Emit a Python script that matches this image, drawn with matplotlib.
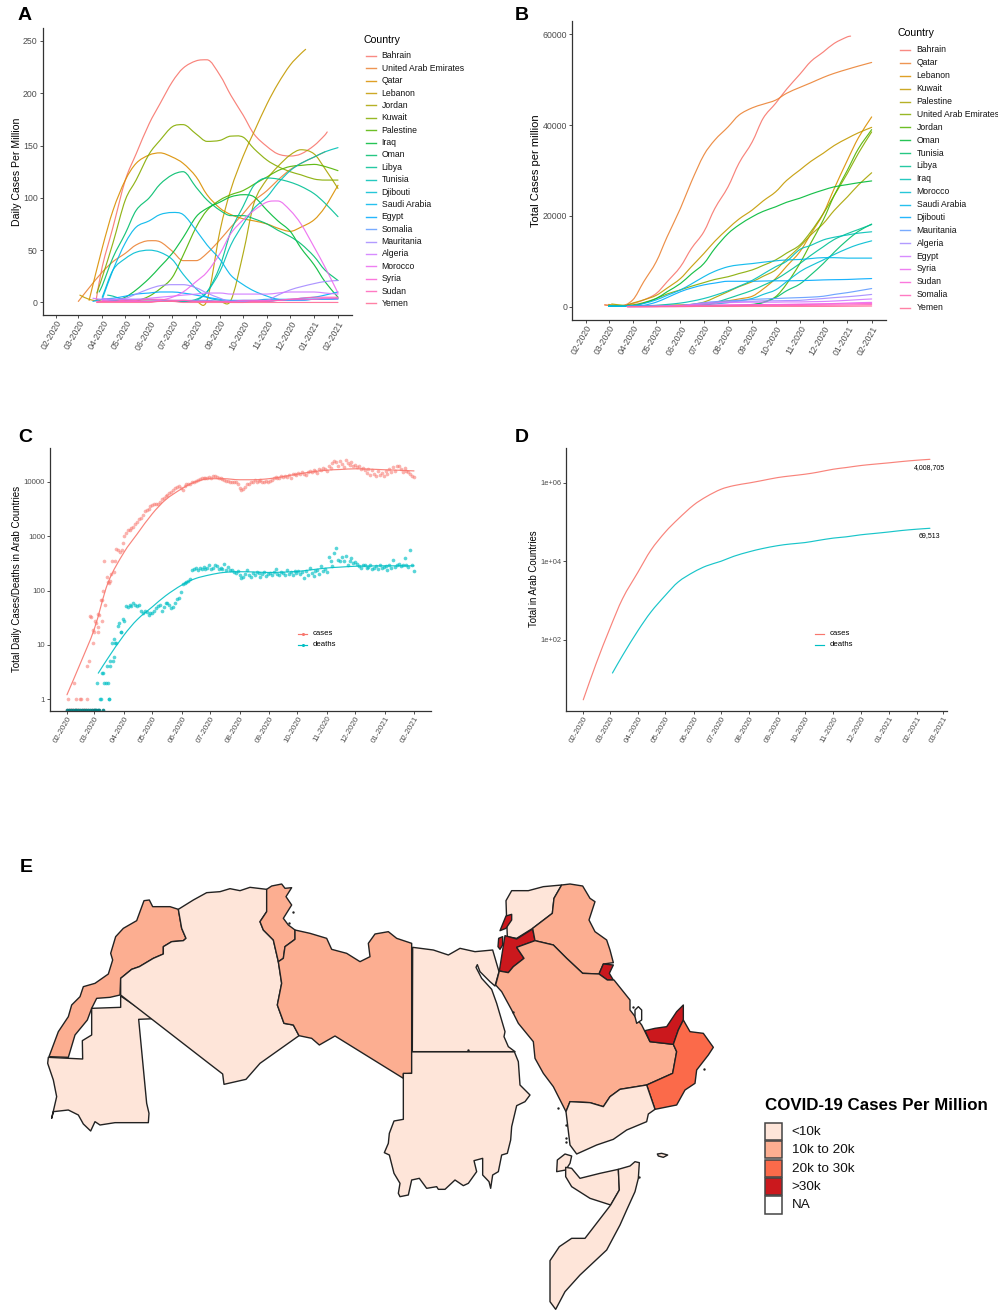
import numpy as np
import matplotlib
matplotlib.use('Agg')
from matplotlib import pyplot as plt
from matplotlib.patches import Polygon, Rectangle, PathPatch
from matplotlib.path import Path

plt.rcParams['font.family'] = ['Liberation Sans', 'DejaVu Sans']

# half month grid used for the reading of panels A, B and D
half_months = ['2020-02-01', '2020-02-15', '2020-03-01', '2020-03-15', '2020-04-01', '2020-04-15',
               '2020-05-01', '2020-05-15', '2020-06-01', '2020-06-15', '2020-07-01', '2020-07-15',
               '2020-08-01', '2020-08-15', '2020-09-01', '2020-09-15', '2020-10-01', '2020-10-15',
               '2020-11-01', '2020-11-15', '2020-12-01', '2020-12-15', '2021-01-01', '2021-01-15',
               '2021-02-01', '2021-02-15']
month_starts = ['2020-02-01', '2020-03-01', '2020-04-01', '2020-05-01', '2020-06-01', '2020-07-01',
                '2020-08-01', '2020-09-01', '2020-10-01', '2020-11-01', '2020-12-01', '2021-01-01',
                '2021-02-01', '2021-03-01']
month_labels = ['02-2020', '03-2020', '04-2020', '05-2020', '06-2020', '07-2020', '08-2020',
                '09-2020', '10-2020', '11-2020', '12-2020', '01-2021', '02-2021', '03-2021']

# panel A, daily cases per million
a_bahrain = [2, 34, 72, 117, 142, 171, 190, 211, 224, 231, 232, 217, 198, 179, 161, 149, 142, 140, 142, 150, 160, 163]
a_uae = [1, 14, 29, 39, 47, 55, 59, 58, 49, 40, 40, 47, 60, 72, 85, 97, 107, 117, 127, 133, 139, 144]
a_qatar = [2, 52, 88, 117, 133, 141, 143, 139, 133, 120, 103, 90, 84, 80, 78, 75, 71, 68, 72, 79, 91, 112]
a_lebanon = [7, 3, 1, 1, 1, 1, 1, 1, 1, 1, 1, 2, 69, 108, 140, 163, 190, 209, 227, 238, 242]
a_jordan = [3, 1, 1, 1, 1, 1, 1, 1, 1, 1, 1, 1, 2, 47, 95, 118, 130, 141, 146, 142, 128, 109]
a_kuwait = [9, 24, 57, 98, 117, 142, 155, 168, 170, 161, 154, 155, 159, 158, 147, 136, 130, 125, 122, 118, 117, 117]
a_palestine = [1, 6, 13, 24, 45, 72, 88, 98, 103, 107, 113, 120, 126, 130, 131, 132, 130, 126]
a_iraq = [1, 5, 12, 23, 34, 47, 62, 82, 90, 96, 101, 103, 101, 88, 78, 68, 52, 36, 20, 5]
a_oman = [10, 16, 43, 66, 88, 100, 113, 122, 125, 110, 98, 88, 83, 83, 80, 75, 69, 63, 56, 44, 31, 21]
a_libya = [7, 6, 2, 1, 1, 1, 1, 1, 3, 10, 35, 68, 92, 112, 119, 118, 115, 111, 104, 95, 82]
a_tunisia = [3, 2, 1, 1, 1, 1, 1, 1, 2, 10, 30, 55, 75, 90, 101, 114, 126, 133, 139, 144, 148]
a_djibouti = [5, 31, 42, 48, 50, 48, 41, 27, 13, 5, 2, 1, 1, 1, 1, 2, 2, 3, 3, 3, 4]
a_saudi = [3, 31, 57, 72, 78, 84, 86, 84, 69, 55, 41, 26, 17, 11, 6, 3, 2, 2, 3, 3, 4]
a_egypt = [1, 3, 4, 6, 8, 9, 10, 10, 9, 7, 5, 3, 2, 2, 2, 3, 3, 3, 4, 5, 7, 10]
a_somalia = [1, 2, 3, 3, 3, 2, 2, 2, 2, 2, 1, 1, 1, 1, 1, 2, 2, 2, 3, 3, 3]
a_mauritania = [4, 3, 4, 8, 13, 16, 17, 17, 14, 9, 4, 1, 1, 1, 2, 7, 12, 15, 18, 20, 21]
a_algeria = [4, 3, 3, 3, 3, 4, 5, 6, 7, 8, 9, 9, 8, 8, 8, 8, 9, 10, 10, 10, 9, 8]
a_morocco = [2, 1, 1, 1, 1, 2, 5, 10, 20, 29, 47, 66, 79, 88, 96, 97, 88, 75, 53, 34, 9]
a_syria = [1, 1, 1, 1, 1, 1, 1, 1, 2, 1, 1, 1, 1, 2, 2, 2, 2, 3, 3, 3, 4, 4]
a_sudan = [0, 1, 1, 2, 2, 3, 3, 2, 2, 1, 1, 1, 0, 0, 1, 1, 2, 3, 4, 5, 5, 5]
a_yemen = [0, 0, 0, 0, 0, 0, 1, 1, 0, 0, 0, 0, 0, 0, 0, 0, 0, 0, 0, 0, 0, 0]

# panel B, total cases per million
b_bahrain = [400, 300, 200, 700, 1500, 2900, 5500, 8800, 12800, 16500, 21600, 26400, 31600, 36300, 41500, 44800, 47900, 51200, 54000, 56100, 58000, 59450, 59600]
b_qatar = [400, 300, 150, 1500, 5500, 9900, 15400, 21650, 27500, 33400, 36700, 39600, 42200, 43800, 44600, 45500, 47000, 48300, 49300, 50500, 51400, 52300, 53000, 53800]
b_lebanon = [500, 200, 150, 200, 250, 300, 350, 450, 650, 900, 1300, 1700, 2300, 3900, 6200, 8900, 12100, 16000, 20500, 26000, 32300, 37200, 41800]
b_kuwait = [400, 800, 1500, 2500, 4100, 6200, 8800, 11700, 14400, 17200, 19300, 21300, 23300, 25300, 27800, 30100, 32000, 33800, 35500, 37100, 38300, 39500]
b_palestine = [600, 400, 200, 200, 250, 300, 350, 500, 1000, 2000, 3300, 4400, 5500, 6700, 8100, 10500, 13200, 15800, 18300, 21200, 24200, 26800, 29500]
b_uae = [300, 400, 900, 1800, 2800, 3700, 4500, 5300, 6000, 6600, 7300, 8100, 9100, 10300, 11800, 13600, 16500, 20500, 24500, 29400, 33800, 38500]
b_jordan = [100, 100, 100, 100, 100, 100, 120, 150, 170, 200, 250, 400, 1000, 2200, 5000, 9500, 14000, 19100, 24500, 30100, 34800, 39000]
b_oman = [300, 300, 800, 1800, 3300, 5100, 7200, 9500, 12800, 16100, 18000, 19800, 21000, 22000, 23000, 23900, 24800, 25700, 26400, 26900, 27300, 27700]
b_tunisia = [100, 100, 100, 100, 100, 100, 100, 120, 150, 200, 250, 300, 500, 900, 2000, 3500, 5000, 7000, 9500, 12000, 14700, 16600, 18200]
b_libya = [100, 100, 100, 100, 100, 150, 200, 300, 500, 900, 1800, 2600, 3600, 4700, 6000, 7500, 9500, 11300, 13200, 14800, 16100, 17000, 18100]
b_iraq = [300, 100, 100, 200, 300, 500, 800, 1200, 1800, 2500, 3500, 4500, 5800, 7200, 8800, 10000, 12600, 13500, 14700, 15300, 15800, 16200, 16500]
b_morocco = [100, 100, 100, 100, 150, 200, 250, 300, 400, 600, 900, 1300, 1800, 2700, 3700, 5500, 7700, 9000, 10300, 11500, 12800, 13700, 14500]
b_saudi = [100, 100, 200, 700, 1500, 2500, 3700, 5000, 6600, 7800, 8800, 9200, 9500, 9800, 10100, 10300, 10400, 10600, 10800, 10800, 10700, 10700, 10700]
b_djibouti = [100, 100, 300, 1000, 2000, 3300, 4100, 4800, 5200, 5600, 5600, 5600, 5650, 5700, 5700, 5750, 5800, 5900, 5950, 6000, 6100, 6200]
b_mauritania = [50, 50, 50, 50, 100, 200, 500, 900, 1100, 1300, 1400, 1600, 1700, 1800, 1900, 2000, 2100, 2300, 2700, 3100, 3500, 4000]
b_algeria = [50, 50, 100, 150, 200, 300, 500, 800, 1000, 1100, 1200, 1200, 1300, 1300, 1350, 1400, 1600, 1800, 2000, 2200, 2400, 2700]
b_egypt = [50, 50, 50, 100, 150, 200, 400, 600, 800, 900, 950, 1000, 1000, 1000, 1050, 1050, 1100, 1150, 1250, 1400, 1550, 1700]
b_syria = [20, 20, 20, 20, 20, 30, 50, 100, 150, 250, 300, 350, 400, 450, 500, 550, 600, 650, 700, 800, 880, 950]
b_sudan = [20, 20, 30, 50, 100, 200, 300, 350, 400, 430, 450, 460, 470, 480, 490, 500, 520, 550, 580, 620, 660, 700]
b_somalia = [10, 20, 30, 50, 80, 120, 180, 200, 210, 220, 230, 240, 250, 260, 270, 280, 300, 320, 340, 370, 410, 450]
b_yemen = [0, 0, 0, 10, 20, 40, 50, 60, 60, 60, 60, 70, 70, 70, 70, 70, 70, 70, 80, 100, 120, 150]

# panel C, daily totals: early points by day, later ones every second day from 1 April
c_case_days = [1, 7, 9, 14, 15, 21, 21, 23, 25, 24, 27, 27, 29, 30, 31, 33, 33, 33, 37, 34, 36, 37, 40, 38, 39, 42, 43, 44, 45, 46, 50, 47, 51, 52, 54, 56, 58, 59]
c_case_early = [1, 2, 1, 1, 1, 1, 4, 5, 33, 34, 11, 19, 17, 28, 25, 21, 17, 37, 27, 36, 67, 67, 55, 98, 355, 175, 146, 136, 151, 198, 222, 350, 350, 575, 560, 520, 560, 760]
c_cases_late = [1000, 1150, 1300, 1300, 1400, 1500, 1650, 1800, 2100, 2200, 2500, 2900, 3000, 3200, 3600,
                3800, 3900, 4000, 3900, 4200, 4800, 5000, 5500, 5800, 6300, 6500, 7200, 7800, 8200, 8500,
                7600, 7200, 8300, 9000, 9300, 9000, 9800, 10000, 10400, 11000, 11300, 11600, 11800, 12000, 11700,
                12200, 11800, 12800, 13000, 12400, 12000, 11800, 11400, 11000, 10600, 10300, 10000, 9900, 10200, 9800, 9300,
                7800, 7000, 7400, 8200, 9300, 9000, 9800, 10200, 10800, 9900, 10500, 11000, 10200, 9800, 10400, 10100,
                10300, 10900, 11800, 12300, 12000, 11600, 12800, 12200, 13000, 12400, 13500, 12000, 13800, 14200, 13300,
                14500, 13800, 15000, 14200, 13200, 15500, 16200, 15000, 16800, 15800, 14700, 17500, 16800, 18200, 17300, 16000,
                20000, 18000, 22000, 24000, 23000, 20000, 24500, 21500, 19000, 25000, 22000, 20500, 23000, 19500,
                21000, 19000, 20000, 17000, 18000, 16500, 14500, 17500, 13500, 16500, 14000, 13000, 15800, 13500, 14800, 12900,
                16000, 14000, 17000, 15000, 18500, 16200, 19500, 20000, 17000, 15000, 18000, 16000, 15500, 14000, 13000, 12500]
c_death_days = [32, 35, 36, 44, 44, 39, 41, 43, 37, 38, 42, 45, 45, 49, 50, 48, 51, 52, 50, 57, 57, 54, 55, 59]
c_death_early = [2, 1, 1, 1, 1, 2, 2, 2, 3, 3, 4, 4, 5, 5, 6, 11, 11, 11, 13, 17, 17, 22, 25, 30]
c_deaths_late = [28, 52, 50, 55, 52, 58, 55, 52, 55, 42, 38, 42, 40, 35, 38,
                 38, 42, 48, 52, 55, 42, 50, 60, 58, 55, 48, 50, 60, 70, 72,
                 95, 130, 140, 145, 150, 165, 240, 250, 255, 240, 260, 250, 270, 250, 260,
                 290, 250, 260, 300, 280, 250, 265, 250, 310, 240, 270, 240, 235, 220, 210, 230,
                 190, 170, 180, 200, 240, 190, 175, 210, 195, 220, 210, 180, 200, 215, 185, 200,
                 210, 190, 215, 250, 200, 190, 220, 210, 195, 235, 205, 215, 190, 225, 210,
                 230, 200, 215, 170, 230, 190, 255, 210, 185, 225, 240, 200, 280, 225, 250, 215,
                 420, 350, 280, 500, 620, 370, 350, 420, 350, 440, 300, 350, 400, 320,
                 340, 310, 280, 260, 290, 300, 260, 270, 290, 250, 265, 280, 250, 300, 260, 270,
                 280, 240, 300, 260, 370, 270, 300, 310, 280, 290, 400, 300, 270, 560, 290, 230]
c_zero_cases = [0, 2, 3, 4, 5, 6, 8, 10, 11, 12, 13, 16, 17, 18, 19, 20, 22, 26, 28]
c_zero_deaths = [0, 2, 4, 6, 8, 10, 12, 14, 16, 18, 20, 22, 24, 26, 28, 30, 31, 33, 34, 38]
c_cases_fit = [1.2, 4.5, 20, 135, 500, 1100, 2600, 4700, 7500, 10000, 11500, 11500, 11000, 11000, 11500, 12500, 14000, 15200, 16500, 17000, 17500, 17300, 16800, 16500, 16000]
c_deaths_fit = [3, 5.6, 15, 29, 50, 80, 126, 165, 195, 215, 222, 220, 215, 218, 225, 240, 260, 270, 280, 283, 285, 285, 285]

# panel D, running totals
d_cases = [2.9, 24, 188, 1100, 5300, 19000, 56000, 120000, 273000, 447000, 690000, 854000, 1000000, 1150000, 1370000, 1510000, 1670000, 1880000, 2240000, 2470000, 2780000, 3000000, 3260000, 3520000, 3810000, 4008705]
d_deaths = [14, 39, 170, 500, 1350, 2950, 5300, 7600, 10000, 13400, 17500, 21000, 25000, 27600, 30000, 33900, 39000, 42000, 47300, 51000, 56000, 61000, 66000, 69513]

morocco = [(432, 152), (448, 150), (458, 170), (510, 170), (535, 178), (545, 235), (558, 265), (550, 272), (515, 275), (490, 290), (490, 312), (460, 325), (418, 350), (395, 358), (362, 385), (360, 435), (330, 442), (290, 445), (275, 475), (262, 510), (225, 555), (205, 622), (147, 620), (175, 545), (205, 500), (215, 465), (240, 440), (250, 410), (285, 400), (325, 372), (338, 330), (332, 310), (347, 260), (370, 235), (410, 212)]
mauritania = [(145, 622), (248, 627), (247, 572), (275, 555), (275, 475), (362, 472), (362, 438), (462, 506), (416, 508), (440, 760), (447, 790), (445, 818), (345, 818), (300, 825), (285, 815), (272, 843), (250, 822), (235, 795), (205, 780), (160, 785), (155, 805), (170, 740), (160, 690), (143, 640)]
algeria = [(535, 178), (580, 150), (620, 128), (660, 125), (690, 116), (720, 122), (750, 112), (800, 118), (800, 185), (780, 215), (790, 240), (820, 270), (835, 335), (845, 400), (832, 465), (852, 520), (880, 525), (897, 557), (780, 640), (738, 688), (672, 703), (668, 672), (620, 635), (362, 435), (362, 385), (395, 358), (418, 350), (460, 325), (490, 312), (490, 290), (515, 275), (550, 272), (558, 265), (545, 235)]
tunisia = [(800, 118), (815, 108), (845, 102), (855, 115), (875, 113), (858, 140), (875, 165), (850, 205), (865, 225), (885, 240), (885, 268), (855, 290), (850, 325), (835, 335), (820, 270), (790, 240), (780, 215), (800, 185)]
libya = [(885, 240), (930, 250), (980, 265), (995, 298), (1040, 310), (1080, 335), (1110, 320), (1105, 280), (1125, 252), (1165, 245), (1190, 265), (1235, 280), (1235, 670), (1210, 672), (1210, 685), (1005, 558), (958, 585), (935, 565), (897, 557), (880, 525), (852, 520), (832, 465), (845, 400), (835, 335), (850, 325), (855, 290), (885, 268)]
sudan = [(125, 35), (433, 35), (445, 65), (450, 135), (480, 165), (465, 185), (440, 197), (425, 260), (422, 300), (412, 340), (395, 345), (385, 395), (368, 405), (362, 445), (357, 425), (338, 405), (338, 355), (312, 362), (320, 395), (295, 430), (280, 437), (255, 420), (225, 448), (205, 448), (200, 440), (170, 445), (148, 415), (125, 420), (115, 465), (90, 470), (85, 460), (90, 430), (72, 400), (58, 345), (43, 338), (55, 310), (58, 280), (72, 243), (100, 238), (100, 100), (125, 100)]
egypt = [(38, 232), (100, 240), (145, 255), (180, 235), (225, 245), (278, 240), (297, 305), (285, 348), (270, 335), (240, 305), (232, 284), (228, 292), (245, 325), (275, 358), (290, 400), (315, 485), (312, 500), (325, 530), (345, 545), (37, 545)]
syria = [(335, 62), (385, 62), (430, 50), (485, 45), (462, 85), (457, 130), (398, 175), (350, 205), (322, 200), (320, 150), (318, 92)]
lebanon = [(300, 182), (318, 138), (335, 133), (335, 150), (318, 175)]
palestine = [(296, 205), (308, 200), (308, 225), (300, 238), (294, 230)]
jordan = [(315, 197), (350, 207), (398, 177), (405, 212), (350, 232), (372, 265), (340, 290), (325, 308), (298, 303), (308, 240)]
iraq = [(398, 175), (457, 130), (462, 85), (485, 45), (510, 42), (548, 48), (570, 85), (585, 95), (567, 150), (585, 185), (620, 210), (630, 240), (640, 278), (610, 282), (597, 312), (548, 310), (500, 265), (460, 225), (405, 212)]
kuwait = [(610, 282), (640, 285), (628, 310), (640, 330), (622, 330), (597, 312)]
saudi = [(298, 303), (325, 308), (340, 290), (372, 265), (350, 232), (405, 212), (460, 225), (500, 265), (548, 310), (597, 312), (622, 330), (642, 330), (690, 390), (690, 420), (725, 465), (750, 515), (820, 523), (830, 545), (818, 610), (740, 645), (660, 658), (630, 680), (610, 710), (570, 698), (510, 695), (498, 725), (460, 650), (430, 610), (405, 565), (400, 515), (355, 460), (335, 420), (305, 365), (287, 345)]
uae = [(735, 482), (765, 475), (800, 470), (830, 425), (850, 405), (850, 450), (835, 480), (820, 523), (750, 515)]
oman = [(850, 450), (870, 485), (910, 490), (940, 532), (925, 555), (890, 600), (885, 640), (855, 660), (830, 705), (765, 718), (740, 645), (818, 610), (830, 545), (820, 523), (835, 480)]
yemen = [(510, 695), (570, 698), (610, 710), (630, 680), (660, 658), (740, 645), (765, 718), (745, 732), (740, 755), (680, 780), (640, 808), (590, 825), (530, 852), (510, 825), (498, 725)]
djibouti = [(470, 905), (472, 870), (495, 852), (515, 858), (510, 880), (497, 900)]
somaliland = [(497, 892), (515, 895), (540, 925), (600, 910), (655, 898), (658, 960), (632, 1005), (570, 985), (515, 950), (497, 920)]
somalia = [(655, 898), (690, 888), (705, 875), (718, 878), (715, 925), (705, 965), (680, 1020), (660, 1065), (620, 1140), (540, 1215), (495, 1265), (467, 1318), (450, 1295), (450, 1172), (478, 1130), (515, 1105), (555, 1105), (632, 1005), (658, 960)]
socotra = [(772, 852), (785, 850), (803, 855), (790, 862), (775, 858)]
qatar = [(705, 420), (715, 410), (725, 420), (725, 450), (710, 460), (705, 440)]
east_islands = [(340, 425), (475, 715), (497, 765), (497, 805), (497, 815), (698, 412), (912, 597), (203, 541), (718, 922)]
west_islands = [(868, 220), (878, 187)]

legend_labels = ['<10k', '10k to 20k', '20k to 30k', '>30k', 'NA']
legend_colours = ['#FEE5D9', '#FCAE91', '#FB6A4A', '#CB181D', '#FFFFFF']


def day(s):
    return float((np.datetime64(s) - np.datetime64('2020-02-01')) / np.timedelta64(1, 'D'))


def dates_for(start, end, grid=half_months):
    mid = [day(g) for g in grid if day(start) < day(g) < day(end)]
    return [day(start)] + mid + [day(end)]


def hue_colours(n):
    # same hue wheel as ggplot: HCL with c=100, l=65
    out = []
    for i in range(n):
        h = np.radians(15 + 360.0 * i / n)
        u = 100 * np.cos(h) / (13 * 65) + 0.19784
        v = 100 * np.sin(h) / (13 * 65) + 0.46834
        Y = ((65 + 16) / 116.0) ** 3
        X = Y * 9 * u / (4 * v)
        Z = Y * (12 - 3 * u - 20 * v) / (4 * v)
        rgb = np.array([3.2406 * X - 1.5372 * Y - 0.4986 * Z,
                        -0.9689 * X + 1.8758 * Y + 0.0415 * Z,
                        0.0557 * X - 0.2040 * Y + 1.0570 * Z]).clip(0, 1)
        rgb = np.where(rgb <= 0.0031308, 12.92 * rgb, 1.055 * rgb ** (1 / 2.4) - 0.055)
        out.append(tuple(rgb.clip(0, 1)))
    return out


def curve(ax, xs, ys, col, log=False):
    # the read values are the knots of a bezier path, so the line stays smooth like the loess fits
    xs = np.array(xs, dtype=float)
    ys = np.array(ys, dtype=float)
    if log:
        ys = np.log10(ys)
    slope = np.diff(ys) / np.diff(xs)
    tan = np.zeros(len(xs))
    tan[0], tan[-1] = slope[0], slope[-1]
    for i in range(1, len(xs) - 1):
        if slope[i - 1] * slope[i] > 0:
            tan[i] = (ys[i + 1] - ys[i - 1]) / (xs[i + 1] - xs[i - 1])
    verts = [(xs[0], ys[0])]
    codes = [Path.MOVETO]
    for i in range(len(xs) - 1):
        h = (xs[i + 1] - xs[i]) / 3.0
        verts += [(xs[i] + h, ys[i] + tan[i] * h), (xs[i + 1] - h, ys[i + 1] - tan[i + 1] * h), (xs[i + 1], ys[i + 1])]
        codes += [Path.CURVE4] * 3
    verts = np.array(verts)
    if log:
        verts[:, 1] = 10 ** verts[:, 1]
    ax.add_patch(PathPatch(Path(verts, codes), fill=False, edgecolor=col, lw=0.85, alpha=0.9, capstyle='round'))


W, H = 1008, 1310
fig = plt.figure(figsize=(W / 100, H / 100), dpi=100)
page = fig.add_axes([0, 0, 1, 1], zorder=5)
page.set_xlim(0, W)
page.set_ylim(H, 0)
page.axis('off')
page.patch.set_alpha(0)


def panel(left, right, top, bottom, xlim, ylim, n_ticks, yscale='linear', tick_size=6.3, y_size=6.3):
    ax = fig.add_axes([left / W, 1 - bottom / H, (right - left) / W, (bottom - top) / H])
    ax.set_yscale(yscale)
    ax.set_xlim(*xlim)
    ax.set_ylim(*ylim)
    for s in ['top', 'right']:
        ax.spines[s].set_visible(False)
    for s in ['left', 'bottom']:
        ax.spines[s].set_linewidth(0.9)
        ax.spines[s].set_color('#333333')
    ax.set_xticks([day(m) for m in month_starts[:n_ticks]])
    ax.set_xticklabels(month_labels[:n_ticks], rotation=60, ha='right', va='top',
                       rotation_mode='anchor', fontsize=tick_size, color='#4D4D4D')
    ax.tick_params(axis='x', length=2, width=0.6, color='#333333', pad=1)
    ax.tick_params(axis='y', length=2, width=0.6, color='#333333', pad=1.5, labelsize=y_size, labelcolor='#4D4D4D')
    ax.minorticks_off()
    return ax


def key_column(names, colours, x_title, y_title, x_line, x_text, y_first, step, clip=None):
    page.text(x_title, y_title, 'Country', fontsize=7.6, ha='left', va='center')
    for i, name in enumerate(names):
        y = y_first + i * step
        page.plot([x_line, x_line + 10], [y, y], color=colours[i], lw=1.0, alpha=0.85)
        t = page.text(x_text, y, name, fontsize=6.2, ha='left', va='center', color='#111111')
        if clip:
            t.set_clip_path(Rectangle((0, 0), clip, H, transform=page.transData))
            t.set_clip_on(True)


# A
a_names = ['Bahrain', 'United Arab Emirates', 'Qatar', 'Lebanon', 'Jordan', 'Kuwait', 'Palestine', 'Iraq', 'Oman',
           'Libya', 'Tunisia', 'Djibouti', 'Saudi Arabia', 'Egypt', 'Somalia', 'Mauritania', 'Algeria', 'Morocco',
           'Syria', 'Sudan', 'Yemen']
a_values = [a_bahrain, a_uae, a_qatar, a_lebanon, a_jordan, a_kuwait, a_palestine, a_iraq, a_oman, a_libya, a_tunisia,
            a_djibouti, a_saudi, a_egypt, a_somalia, a_mauritania, a_algeria, a_morocco, a_syria, a_sudan, a_yemen]
a_starts = ['2020-03-24', '2020-03-01', '2020-03-15', '2020-03-03', '2020-03-25', '2020-03-25', '2020-05-15',
            '2020-04-15', '2020-03-28', '2020-04-08', '2020-04-08', '2020-04-01', '2020-04-01', '2020-03-20',
            '2020-04-01', '2020-04-01', '2020-03-20', '2020-04-01', '2020-03-25', '2020-03-25', '2020-03-25']
a_ends = ['2021-01-18', '2021-01-15', '2021-02-01', '2020-12-21'] + ['2021-02-01'] * 17

colours = hue_colours(21)
ax = panel(42.5, 352, 28, 315, (-17.5, 384.2), (-12, 262.4), 13)
for i, vals in enumerate(a_values):
    curve(ax, dates_for(a_starts[i], a_ends[i]), vals, colours[i])
ax.set_yticks([0, 50, 100, 150, 200, 250])
ax.minorticks_off()
page.text(17, 172, 'Daily Cases Per Million', rotation=90, fontsize=7.6, ha='center', va='center')
key_column(a_names, colours, 364, 40, 365.5, 381.7, 56, 12.37)

# B
b_names = ['Bahrain', 'Qatar', 'Lebanon', 'Kuwait', 'Palestine', 'United Arab Emirates', 'Jordan', 'Oman', 'Tunisia',
           'Libya', 'Iraq', 'Morocco', 'Saudi Arabia', 'Djibouti', 'Mauritania', 'Algeria', 'Egypt', 'Syria', 'Sudan',
           'Somalia', 'Yemen']
b_values = [b_bahrain, b_qatar, b_lebanon, b_kuwait, b_palestine, b_uae, b_jordan, b_oman, b_tunisia, b_libya, b_iraq,
            b_morocco, b_saudi, b_djibouti, b_mauritania, b_algeria, b_egypt, b_syria, b_sudan, b_somalia, b_yemen]
b_starts = ['2020-02-25', '2020-02-25', '2020-03-01', '2020-03-25', '2020-03-05', '2020-03-25', '2020-03-25',
            '2020-03-25', '2020-03-01', '2020-03-01', '2020-03-01', '2020-03-01', '2020-03-01', '2020-03-25',
            '2020-03-25', '2020-03-25', '2020-03-25', '2020-03-25', '2020-03-25', '2020-03-25', '2020-03-25']
b_ends = ['2021-01-05'] + ['2021-02-01'] * 20

ax = panel(572.3, 885.7, 21, 320, (-17.5, 384), (-2930, 62930), 13)
for i, vals in enumerate(b_values):
    curve(ax, dates_for(b_starts[i], b_ends[i]), vals, colours[i])
ax.set_yticks([0, 20000, 40000, 60000])
ax.set_yticklabels(['0', '20000', '40000', '60000'])
ax.minorticks_off()
page.text(536, 170.7, 'Total Cases per million', rotation=90, fontsize=8, ha='center', va='center')
key_column(b_names, colours, 898, 33, 899.5, 916.7, 50, 12.88, clip=998)

# C
red, teal = '#F8766D', '#00BFC4'
ax = panel(50, 430.7, 447.7, 710.7, (-17.9, 383.6), (0.61, 10 ** 4.632), 13, 'log', 5.8, 5.6)
late_case_days = 60 + 2 * np.arange(len(c_cases_late))
late_death_days = 60 + 2 * np.arange(len(c_deaths_late))
ax.scatter(c_case_days, c_case_early, s=7, color=red, alpha=0.55, lw=0)
ax.scatter(late_case_days, c_cases_late, s=7, color=red, alpha=0.55, lw=0)
ax.scatter(c_death_days, c_death_early, s=7, color=teal, alpha=0.65, lw=0)
ax.scatter(late_death_days, c_deaths_late, s=7, color=teal, alpha=0.65, lw=0)
ax.scatter(c_zero_cases, [0.62] * len(c_zero_cases), s=7, color=red, alpha=0.5, lw=0)
ax.scatter(c_zero_deaths, [0.62] * len(c_zero_deaths), s=7, color='#007F83', alpha=0.9, lw=0)
curve(ax, dates_for('2020-02-01', '2021-02-01'), c_cases_fit, red, log=True)
curve(ax, dates_for('2020-03-05', '2021-02-01'), c_deaths_fit, teal, log=True)
ax.set_yticks([1, 10, 100, 1000, 10000])
ax.set_yticklabels(['1', '10', '100', '1000', '10000'])
ax.minorticks_off()
page.text(17.5, 579, 'Total Daily Cases/Deaths in Arab Countries', rotation=90, fontsize=7.05, ha='center', va='center')
for y, name, col in [(633.5, 'cases', red), (645, 'deaths', teal)]:
    page.plot([298, 307], [y, y], color=col, lw=0.85)
    page.plot([302.5], [y], 'o', color=col, ms=2.2, mew=0)
    page.text(313, y, name, fontsize=5.6, ha='left', va='center')

# D
ax = panel(566.3, 947, 447.7, 711, (-18.6, 398.7), (10 ** 0.176, 10 ** 6.9), 14, 'log', 5.8, 5.4)
curve(ax, dates_for('2020-02-01', '2021-02-15'), d_cases, red, log=True)
curve(ax, dates_for('2020-03-04', '2021-02-15'), d_deaths, teal, log=True)
ax.set_yticks([100, 10000, 1000000])
ax.set_yticklabels(['1e+02', '1e+04', '1e+06'])
ax.minorticks_off()
page.text(534, 579, 'Total in Arab Countries', rotation=90, fontsize=6.9, ha='center', va='center')
page.text(929, 467.7, '4,008,705', fontsize=5, ha='center', va='center')
page.text(929, 536, '69,513', fontsize=5, ha='center', va='center')
for y, name, col in [(633.5, 'cases', red), (645, 'deaths', teal)]:
    page.plot([815, 824], [y, y], color=col, lw=0.85)
    page.text(830, y, name, fontsize=5.6, ha='left', va='center')


# E: reading frames of the map crops
def west(pts):
    return [(x / 3.0, 850 + y / 3.0) for x, y in pts]


def east(pts):
    return [(400 + x / 3.0, 870 + y / 3.0) for x, y in pts]


def sudan_frame(pts):
    return [(370 + x / 3.0, 1040 + y / 3.0) for x, y in pts]


low, mid, high, top_band = legend_colours[:4]
shapes = [(west(morocco), mid), (west(mauritania), low), (west(algeria), low), (west(tunisia), mid), (west(libya), mid),
          (sudan_frame(sudan), low), (east(egypt), low), (east(syria), low), (east(lebanon), top_band),
          (east(palestine), top_band), (east(jordan), top_band), (east(iraq), mid), (east(kuwait), top_band),
          (east(saudi), mid), (east(uae), top_band), (east(oman), high), (east(yemen), low), (east(djibouti), low),
          (east(somaliland), low), (east(somalia), low), (east(socotra), low), (east(qatar), '#FFFFFF')]
for pts, col in shapes:
    page.add_patch(Polygon(pts, closed=True, facecolor=col, edgecolor='#222222', lw=1.0, joinstyle='round'))
island_pts = east(east_islands) + west(west_islands)
page.scatter([p[0] for p in island_pts], [p[1] for p in island_pts], s=3, color='#222222', lw=0)

page.text(765, 1105.7, 'COVID-19 Cases Per Million', fontsize=12.2, fontweight='bold', ha='left', va='center')
swatch_tops = [1122.7, 1141, 1159.7, 1178, 1196.3]
for y, lab, col in zip(swatch_tops, legend_labels, legend_colours):
    page.add_patch(Rectangle((765, y), 17.3, 17.3, facecolor=col, edgecolor='#444444', lw=1.1))
    page.text(791.7, y + 9, lab, fontsize=9.7, ha='left', va='center', color='#111111')

# panel letters
for letter, x, y in [('A', 18, 15), ('B', 515, 15), ('C', 18, 437), ('D', 515, 437), ('E', 20, 867)]:
    page.text(x, y, letter, fontsize=14, fontweight='bold', ha='left', va='center')

fig.savefig('out.png', dpi=100)
